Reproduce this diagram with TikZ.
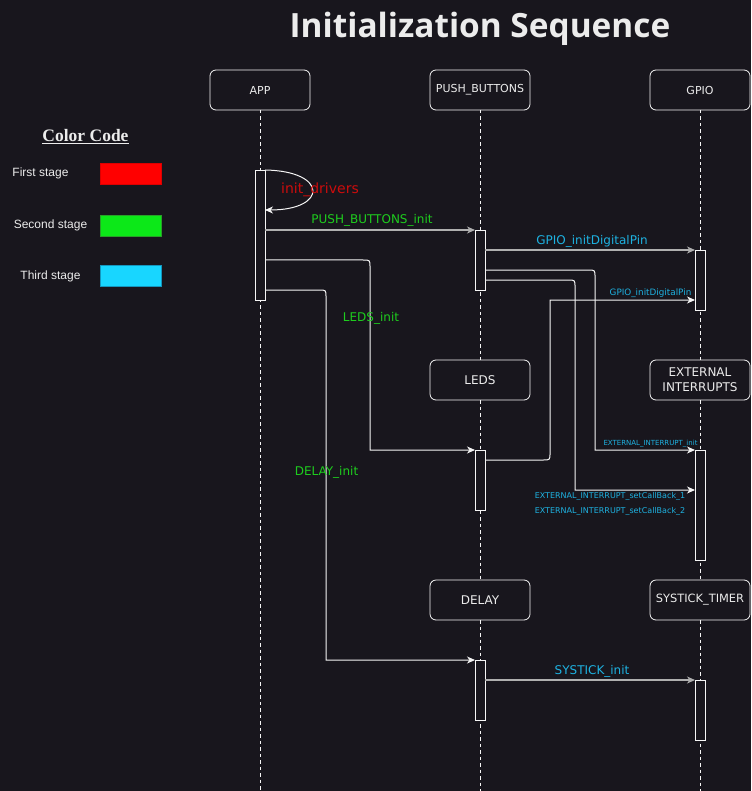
\documentclass[tikz,border=0pt]{standalone}
\usepackage{fontspec}
\setmainfont{DejaVu Sans}
\newfontfamily\labf{DejaVu Sans}
\newfontfamily\arf{Liberation Sans}
\newfontfamily\serf{Liberation Serif}
\newfontfamily\ttlf{Open Sans}
\usetikzlibrary{arrows.meta}
\definecolor{bgc}{RGB}{24,22,29}
\definecolor{txtc}{RGB}{236,236,236}
\definecolor{redc}{RGB}{204,12,12}
\definecolor{grnc}{RGB}{30,205,30}
\definecolor{cyac}{RGB}{30,178,225}
\definecolor{wirec}{RGB}{245,245,245}
\definecolor{grayw}{RGB}{175,175,175}
\definecolor{lred}{RGB}{255,0,0}
\definecolor{lredb}{RGB}{220,0,0}
\definecolor{lgrn}{RGB}{12,232,24}
\definecolor{lgrnb}{RGB}{40,160,40}
\definecolor{lcya}{RGB}{24,214,255}
\definecolor{lcyab}{RGB}{20,150,190}
\tikzset{
  hdr/.style={draw=wirec, fill=bgc, rounded corners=6pt, line width=0.8pt,
    minimum width=100pt, minimum height=40pt, inner sep=0pt, outer sep=0pt,
    text=txtc, font=\labf\fontsize{11}{15}\selectfont, align=center},
  actbar/.style={draw=wirec, fill=bgc, line width=0.8pt, minimum width=10pt,
    inner sep=0pt, outer sep=0pt},
  life/.style={draw=wirec, line width=0.7pt, dash pattern=on 3.5pt off 3pt},
  tipa/.style={-{Stealth[length=8pt,width=7pt,inset=2.5pt]}},
  wire/.style={draw=wirec, line width=1pt, tipa},
  gwire/.style={draw=grayw, line width=1.2pt, tipa},
  lab/.style={anchor=base, inner sep=0pt, font=\labf\fontsize{12}{14}\selectfont},
  leg/.style={anchor=base, inner sep=0pt, text=txtc, font=\arf\fontsize{12}{14}\selectfont},
  legbox/.style={line width=0.8pt}
}
\begin{document}
\begin{tikzpicture}[x=1pt,y=-1pt]
\fill[bgc] (0,0) rectangle (751,791);
\useasboundingbox (0,0) rectangle (751,791);

% title
\node[anchor=base, inner sep=0pt, text=txtc, font=\ttlf\bfseries\fontsize{33.4}{36}\selectfont] (title) at (480,38) {Initialization Sequence};

% legend
\node[anchor=base, inner sep=0pt, text=txtc, font=\serf\bfseries\fontsize{17.5}{20}\selectfont] (cc) at (85.5,142) {\underline{Color Code}};
\node[leg] (l1) at (40.5,177) {First stage};
\node[leg] (l2) at (50.5,229) {Second stage};
\node[leg] (l3) at (50.5,279) {Third stage};
\draw[legbox, fill=lred, draw=lredb] (100,163) rectangle (161,184);
\draw[legbox, fill=lgrn, draw=lgrnb] (100,215) rectangle (161,236);
\draw[legbox, fill=lcya, draw=lcyab] (100,265) rectangle (161,286);

% header boxes
\node[hdr] (app) at (260,90) {APP};
\node[hdr] (pb) at (480,90) {PUSH\_BUTTONS};
\node[hdr] (gpio) at (700,90) {GPIO};
\node[hdr, font=\labf\fontsize{12}{15}\selectfont] (leds) at (480,380) {LEDS};
\node[hdr, font=\labf\fontsize{12}{15}\selectfont] (ext) at (700,380) {EXTERNAL\\INTERRUPTS};
\node[hdr, font=\labf\fontsize{12}{15}\selectfont] (delay) at (480,600) {DELAY};
\node[hdr, font=\labf\fontsize{11.4}{15}\selectfont] (st) at (700,600) {SYSTICK\_TIMER};

% lifelines
\draw[life] (app.south) -- (260,791);
\draw[life] (pb.south) -- (leds.north);
\draw[life] (leds.south) -- (delay.north);
\draw[life] (delay.south) -- (480,791);
\draw[life] (gpio.south) -- (ext.north);
\draw[life] (ext.south) -- (st.north);
\draw[life] (st.south) -- (700,791);

% activation bars
\node[actbar, minimum height=130pt] (appbar) at (260,235) {};
\node[actbar, minimum height=60pt] (pbbar) at (480,260) {};
\node[actbar, minimum height=60pt] (gpiobar) at (700,280) {};
\node[actbar, minimum height=60pt] (ledsbar) at (480,480) {};
\node[actbar, minimum height=110pt] (extbar) at (700,505) {};
\node[actbar, minimum height=60pt] (delaybar) at (480,690) {};
\node[actbar, minimum height=60pt] (stbar) at (700,710) {};

% self message
\draw[wire] (appbar.north east) .. controls (328,171) and (328,210) .. (appbar.east |- 0,210);
\node[lab, text=redc, font=\labf\fontsize{14}{16}\selectfont] (initd) at (320,194) {init\_drivers};

% straight messages
\draw[gwire] (appbar.east |- pbbar.north) -- (pbbar.north west);
\node[lab, text=grnc] (m1) at (372,224) {PUSH\_BUTTONS\_init};
\draw[gwire] (pbbar.east |- gpiobar.north) -- (gpiobar.north west);
\node[lab, text=cyac] (m2) at (592,245) {GPIO\_initDigitalPin};
\draw[gwire] (delaybar.east |- stbar.north) -- (stbar.north west);
\node[lab, text=cyac] (m3) at (592,674) {SYSTICK\_init};

% routed messages
\draw[wire] (appbar.east |- 0,260) -- (363,260) .. controls (370,260) .. (370,267) -- (370,450) -- (ledsbar.north west);
\node[lab, text=grnc] (m4) at (371,321) {LEDS\_init};

\draw[wire] (appbar.east |- 0,290) -- (319,290) .. controls (326,290) .. (326,297) -- (326,660) -- (delaybar.north west);
\node[lab, text=grnc] (m5) at (326.5,475) {DELAY\_init};

\draw[wire] (pbbar.east |- 0,270) -- (588,270) .. controls (595,270) .. (595,277) -- (595,450) -- (extbar.north west);
\node[lab, text=cyac, font=\labf\fontsize{7}{8}\selectfont] (m6) at (650.5,445) {EXTERNAL\_INTERRUPT\_init};

\draw[wire] (pbbar.east |- 0,280) -- (568,280) .. controls (575,280) .. (575,287) -- (575,490) -- (extbar.west |- 0,490);
\node[lab, text=cyac, font=\labf\fontsize{8}{9}\selectfont] (m7) at (610,498) {EXTERNAL\_INTERRUPT\_setCallBack\_1};
\node[lab, text=cyac, font=\labf\fontsize{8}{9}\selectfont] (m8) at (610,513) {EXTERNAL\_INTERRUPT\_setCallBack\_2};

\draw[wire] (ledsbar.east |- 0,460) -- (543,460) .. controls (550,460) .. (550,453) -- (550,300) -- (gpiobar.west |- 0,300);
\node[lab, text=cyac, font=\labf\fontsize{8.8}{10}\selectfont] (m9) at (650.5,295) {GPIO\_initDigitalPin};
\end{tikzpicture}
\end{document}
